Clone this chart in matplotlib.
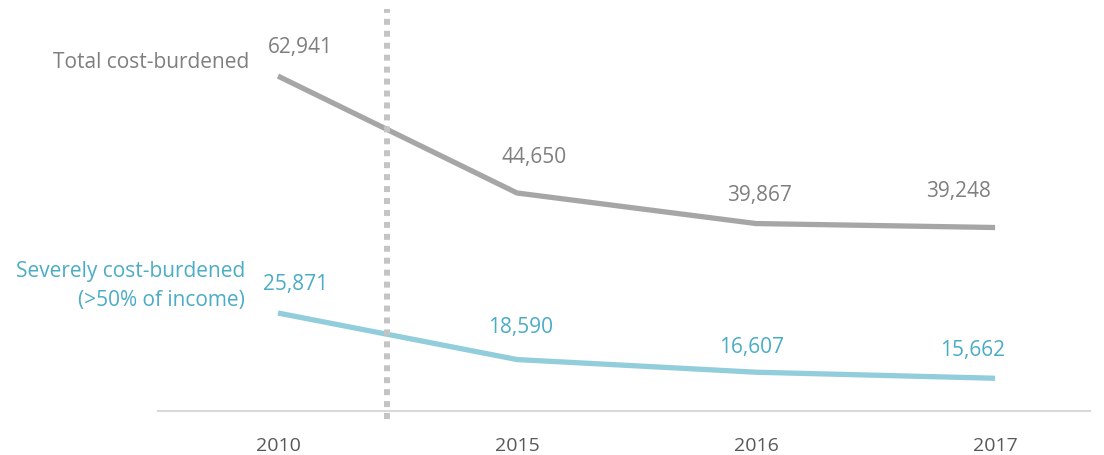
import matplotlib.pyplot as plt

plt.rcParams['font.family'] = ['Open Sans', 'DejaVu Sans']

years = ["2010", "2015", "2016", "2017"]
total = [62941, 44650, 39867, 39248]
severe = [25871, 18590, 16607, 15662]

# label offsets in pixels (dx, dy) from each point
total_off = [(22, 30), (17, 36), (3, 29), (-37, 37)]
severe_off = [(18, 30), (4, 33), (-5, 26), (-23, 29)]

grey = "#a6a6a6"
blue = "#92cddc"
grey_txt = "#7f7f7f"
blue_txt = "#4bacc6"

fig = plt.figure(figsize=(11.04, 4.56), dpi=100)
ax = fig.add_axes([158 / 1104, 44 / 456, 932 / 1104, 412 / 456])

x = list(range(len(years)))
ax.plot(x, total, color=grey, lw=3.8, solid_capstyle="butt")
ax.plot(x, severe, color=blue, lw=3.8, solid_capstyle="butt")

px = 72 / 100
for i, v in enumerate(total):
    ax.annotate(f"{v:,}", (i, v), xytext=(total_off[i][0] * px, total_off[i][1] * px),
                textcoords="offset points", ha="center", va="center",
                fontsize=15, color=grey_txt)
for i, v in enumerate(severe):
    ax.annotate(f"{v:,}", (i, v), xytext=(severe_off[i][0] * px, severe_off[i][1] * px),
                textcoords="offset points", ha="center", va="center",
                fontsize=15, color=blue_txt)

# series names
ax.annotate("Total cost-burdened", (0, total[0]), xytext=(-29 * px, 15 * px),
            textcoords="offset points", ha="right", va="center", fontsize=15, color=grey_txt)
ax.annotate("Severely cost-burdened\n(>50% of income)", (0, severe[0]), xytext=(-33 * px, 28 * px),
            textcoords="offset points", ha="right", va="center", fontsize=15,
            color=blue_txt, linespacing=1.5, annotation_clip=False)

# break marker between 2010 and 2015
ax.axvline(0.456, ymin=-0.02, ymax=0.976, color="#c4c4c4", lw=4.3,
           dashes=(1, 1), clip_on=False)

ax.set_xlim(-0.502, 3.397)
ax.set_ylim(10540, 75000)
ax.set_xticks(x)
ax.set_xticklabels(years, fontsize=14, color="#595959")
ax.tick_params(axis="x", length=0, pad=18)
ax.set_yticks([])
for s in ["top", "right", "left"]:
    ax.spines[s].set_visible(False)
ax.spines["bottom"].set_color("#d9d9d9")
ax.spines["bottom"].set_linewidth(1.5)

fig.savefig("out.png", dpi=100)
